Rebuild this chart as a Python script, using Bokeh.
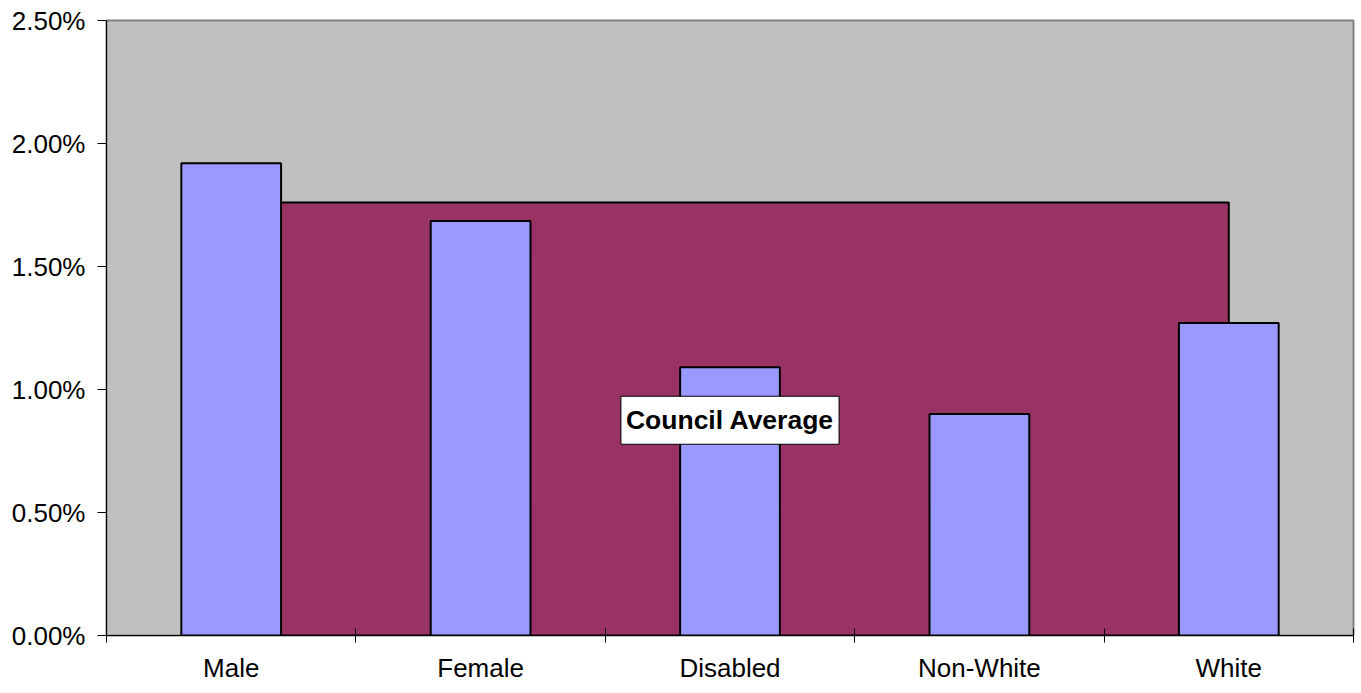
from bokeh.plotting import figure
from bokeh.models import Range1d, FixedTicker, PrintfTickFormatter, Label, ColumnDataSource
from bokeh.embed import file_html
from bokeh.resources import INLINE

categories = ["Male", "Female", "Disabled", "Non-White", "White"]
rates = [1.92, 1.685, 1.09, 0.90, 1.27]
council_average = [1.76, 1.76, 1.76, 1.76, 1.76]
y_ticks = [0.0, 0.5, 1.0, 1.5, 2.0, 2.5]
label_text = "Council Average"

FONT = "Liberation Sans"

centers = [i + 0.5 for i in range(len(categories))]
boundaries = [float(i) for i in range(len(categories) + 1)]

p = figure(width=1355, height=685, output_backend="svg", toolbar_location=None,
           x_range=Range1d(0, len(categories)), y_range=Range1d(0, 2.5),
           min_border_left=106, min_border_right=2, min_border_top=20, min_border_bottom=0)

p.background_fill_color = "#C0C0C0"
p.border_fill_color = "white"
p.outline_line_color = "#808080"
p.outline_line_width = 2
p.xgrid.visible = False
p.ygrid.visible = False

# council average area (behind bars)
ax = [centers[0]] + centers + [centers[-1]]
ay = [0.0] + council_average + [0.0]
p.patch(ax, ay, fill_color="#993366", line_color="black", line_width=2)

src = ColumnDataSource(dict(x=centers, top=rates, cat=categories))
p.vbar(x="x", top="top", width=0.4, bottom=0, source=src,
       fill_color="#9999FF", line_color="black", line_width=2)

lbl = Label(x=centers[2], y=0.875, text=label_text, text_align="center", text_baseline="middle",
            text_font=FONT, text_font_size="26.5px", text_font_style="bold", text_color="black",
            background_fill_color="white", border_line_color="black", border_line_width=1,
            padding=(5, 9))
p.add_layout(lbl)

# y axis
p.yaxis.ticker = FixedTicker(ticks=y_ticks, minor_ticks=[])
p.yaxis.formatter = PrintfTickFormatter(format="%.2f%%")
p.yaxis.major_label_text_font = FONT
p.yaxis.major_label_text_font_size = "26px"
p.yaxis.major_label_text_color = "black"
p.yaxis.major_tick_in = 0
p.yaxis.major_tick_out = 9
p.yaxis.axis_line_color = "black"
p.yaxis.axis_line_width = 1
p.yaxis.major_label_standoff = 12

# x axis
p.xaxis.ticker = FixedTicker(ticks=centers, minor_ticks=boundaries)
p.xaxis.major_label_overrides = {c: n for c, n in zip(centers, categories)}
p.xaxis.major_label_text_font = FONT
p.xaxis.major_label_text_font_size = "26px"
p.xaxis.major_label_text_color = "black"
p.xaxis.major_tick_in = 0
p.xaxis.major_tick_out = 0
p.xaxis.minor_tick_in = 7
p.xaxis.minor_tick_out = 7
p.xaxis.minor_tick_line_color = "black"
p.xaxis.axis_line_color = "black"
p.xaxis.major_label_standoff = 10

open("out.html", "w").write(file_html(p, INLINE))
